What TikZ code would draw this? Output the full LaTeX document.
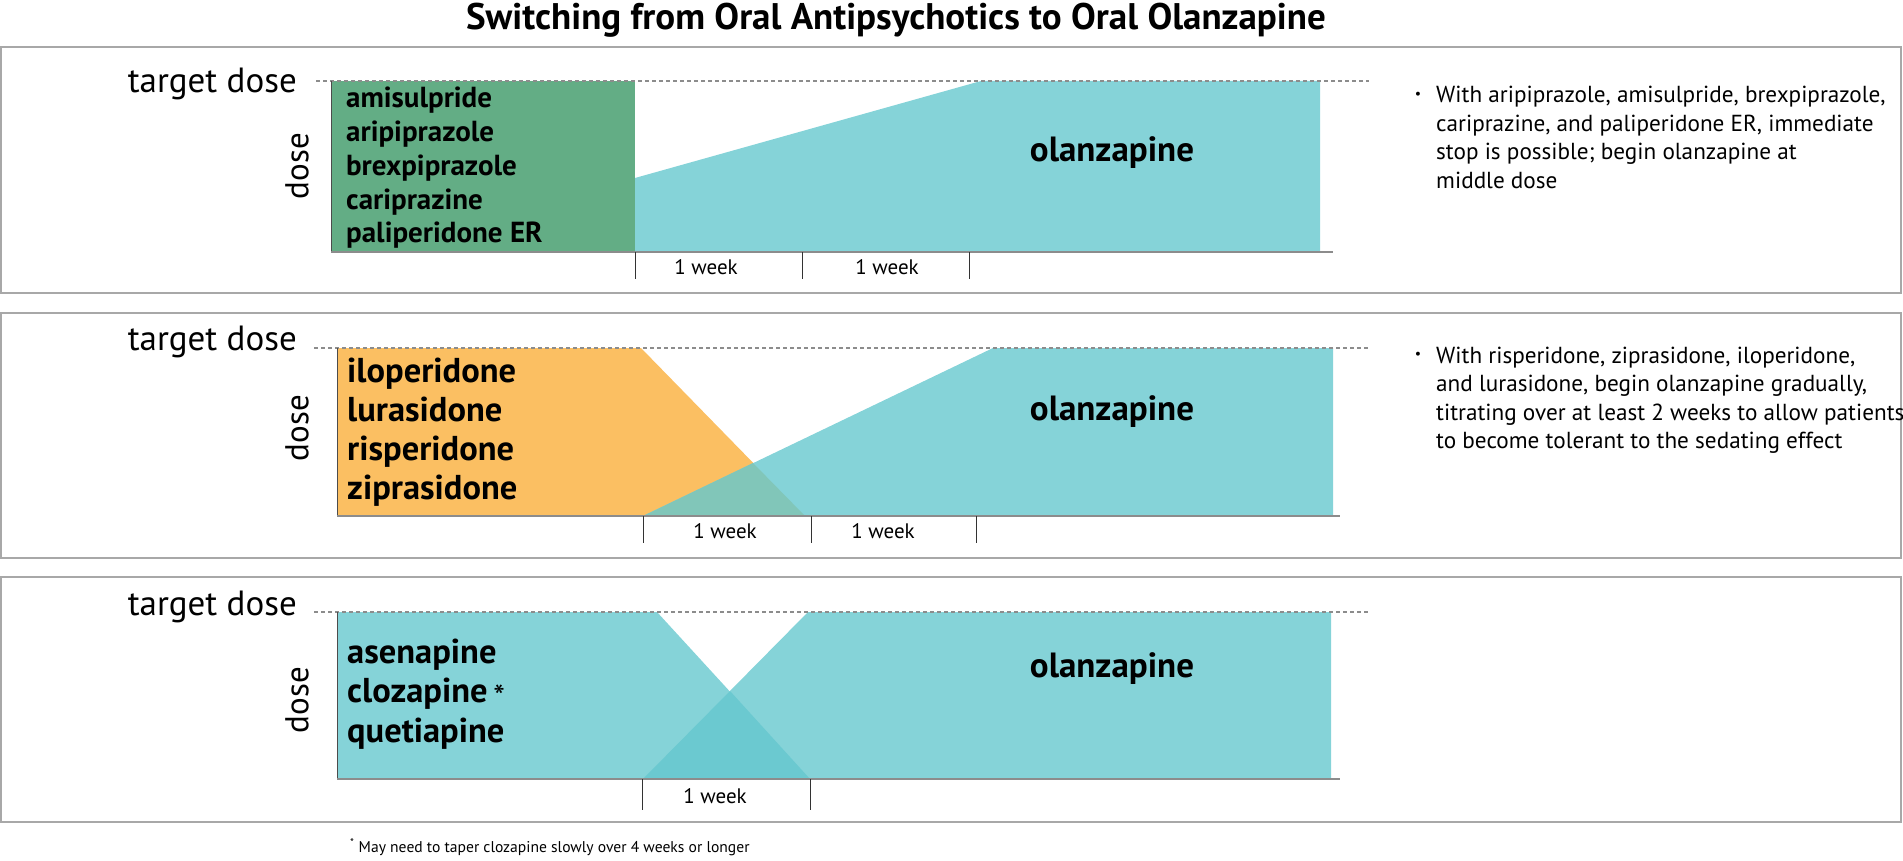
\documentclass[tikz,border=0pt]{standalone}
\usepackage{fontspec}
\setmainfont{PT Sans}
\usetikzlibrary{positioning}
\definecolor{olzcyan}{HTML}{85D3D8}
\definecolor{druggreen}{HTML}{63AD85}
\definecolor{drugorange}{HTML}{FBBF62}
\definecolor{mixgreen}{HTML}{81C6B9}
\definecolor{mixcyan}{HTML}{6BC9D0}
\definecolor{framegray}{HTML}{A8A8A8}
\definecolor{axisgray}{HTML}{8C8C8C}

\begin{document}
\begin{tikzpicture}[x=1pt,y=-1pt,
  panel/.style={draw=framegray,line width=1.4pt},
  target/.style={draw=axisgray,line width=1.1pt,dash pattern=on 4pt off 3pt},
  baseaxis/.style={draw=axisgray,line width=2.2pt},
  doseaxis/.style={draw=black!70,line width=0.6pt},
  weektick/.style={draw=black!80,line width=0.9pt},
  txt/.style={inner sep=0pt,anchor=base},
  heading/.style={txt,font=\fontsize{37}{42}\selectfont\bfseries},
  tgt/.style={txt,anchor=base east,font=\fontsize{35}{40}\selectfont},
  doselbl/.style={inner sep=0pt,rotate=90,font=\fontsize{33}{38}\selectfont},
  drugsm/.style={txt,anchor=base west,font=\fontsize{29}{34}\selectfont\bfseries},
  druglg/.style={txt,anchor=base west,font=\fontsize{34.5}{40}\selectfont\bfseries},
  olz/.style={txt,font=\fontsize{35}{40}\selectfont\bfseries},
  week/.style={txt,font=\fontsize{21}{25}\selectfont},
  note/.style={txt,anchor=base west,font=\fontsize{23.2}{28}\selectfont},
  dot/.style={inner sep=0pt,font=\fontsize{14}{14}\selectfont},
  foot/.style={txt,anchor=base west,font=\fontsize{15.6}{19}\selectfont}]
  \useasboundingbox (0,0) rectangle (1903,861);

  \node[heading] (title) at (896,30) {Switching from Oral Antipsychotics to Oral Olanzapine};

  \draw[panel] (1,47) rectangle (1901,293);
  \draw[panel] (1,313) rectangle (1901,558);
  \draw[panel] (1,577) rectangle (1901,822);

  % panel 1
  \coordinate (p1o) at (331,252);
  \coordinate (p1t) at (331,81);
  \fill[druggreen] (p1t) rectangle (635,252);
  \fill[olzcyan] (635,178) -- (981,81) -- (1320,81) -- (1320,252) -- (635,252) -- cycle;
  \draw[target] (316,81) -- (1369,81);
  \draw[doseaxis] (p1t) -- (p1o);
  \draw[baseaxis] (p1o) -- (1333,252);
  \foreach \x in {635,802,969} \draw[weektick] (\x,252) -- (\x,279);
  \node[tgt] (tgt1) at (297,93) {target dose};
  \node[doselbl] (dose1) at (297,166) {dose};
  \foreach \d [count=\i from 0] in {amisulpride,aripiprazole,brexpiprazole,cariprazine,paliperidone ER}
    \node[drugsm] (drug1-\i) at (346,108+33.7*\i) {\d};
  \node[olz] (olz1) at (1112,162) {olanzapine};
  \node[week] (wk1a) at (706,274) {1 week};
  \node[week] (wk1b) at (887,274) {1 week};
  \node[dot] (bul1) at (1418,95) {\textbullet};
  \foreach \l [count=\i from 0] in {{With aripiprazole, amisulpride, brexpiprazole,},{cariprazine, and paliperidone ER, immediate},{stop is possible; begin olanzapine at},{middle dose}}
    \node[note] (note1-\i) at (1436,103+28.5*\i) {\l};

  % panel 2
  \coordinate (p2o) at (337,516);
  \coordinate (p2t) at (337,348);
  \fill[drugorange] (p2t) -- (641,348) -- (805,516) -- (p2o) -- cycle;
  \fill[olzcyan] (643,516) -- (993,348) -- (1333,348) -- (1333,516) -- cycle;
  \fill[mixgreen] (643,516) -- (753,463) -- (805,516) -- cycle;
  \draw[target] (314,348) -- (1369,348);
  \draw[doseaxis] (p2t) -- (p2o);
  \draw[baseaxis] (p2o) -- (1340,516);
  \foreach \x in {643,811,976} \draw[weektick] (\x,516) -- (\x,543);
  \node[tgt] (tgt2) at (297,350) {target dose};
  \node[doselbl] (dose2) at (297,428) {dose};
  \foreach \d [count=\i from 0] in {iloperidone,lurasidone,risperidone,ziprasidone}
    \node[druglg] (drug2-\i) at (347,382+39.3*\i) {\d};
  \node[olz] (olz2) at (1112,420) {olanzapine};
  \node[week] (wk2a) at (725,538) {1 week};
  \node[week] (wk2b) at (883,538) {1 week};
  \node[dot] (bul2) at (1418,355) {\textbullet};
  \foreach \l [count=\i from 0] in {{With risperidone, ziprasidone, iloperidone,},{and lurasidone, begin olanzapine gradually,},{titrating over at least 2 weeks to allow patients},{to become tolerant to the sedating effect}}
    \node[note] (note2-\i) at (1436,363+28.5*\i) {\l};

  % panel 3
  \coordinate (p3o) at (337,779);
  \coordinate (p3t) at (337,612);
  \fill[olzcyan] (p3t) -- (657,612) -- (810,779) -- (p3o) -- cycle;
  \fill[olzcyan] (643,779) -- (808,612) -- (1331,612) -- (1331,779) -- cycle;
  \fill[mixcyan] (643,779) -- (730,691) -- (810,779) -- cycle;
  \draw[target] (314,612) -- (1368,612);
  \draw[doseaxis] (p3t) -- (p3o);
  \draw[baseaxis] (p3o) -- (1340,779);
  \foreach \x in {642,810} \draw[weektick] (\x,779) -- (\x,810);
  \node[tgt] (tgt3) at (297,615) {target dose};
  \node[doselbl] (dose3) at (297,700) {dose};
  \foreach \d [count=\i from 0] in {asenapine,{clozapine\,{\normalfont\fontsize{33}{33}\selectfont\raisebox{-6pt}{*}}},quetiapine}
    \node[druglg] (drug3-\i) at (347,663+39.5*\i) {\d};
  \node[olz] (olz3) at (1112,677) {olanzapine};
  \node[week] (wk3a) at (715,803) {1 week};

  \node[foot] (fn) at (350,852) {\textsuperscript{*} May need to taper clozapine slowly over 4 weeks or longer};
\end{tikzpicture}
\end{document}
